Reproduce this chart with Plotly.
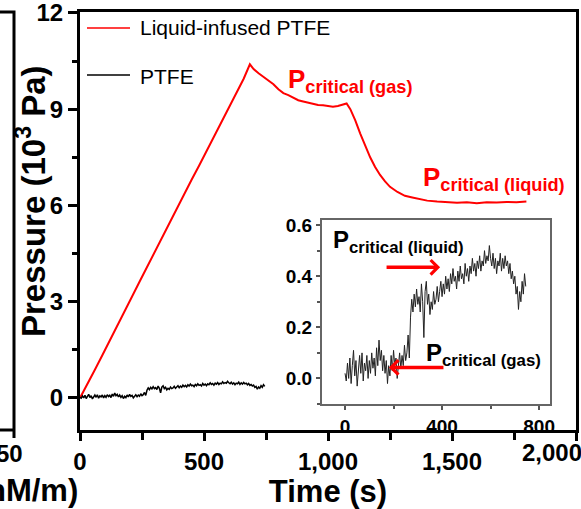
import plotly.graph_objects as go

# ---------------- data ----------------
# Liquid-infused PTFE (red), time in s, pressure in 10^3 Pa
li_time = [0, 30, 60, 90, 120, 150, 180, 210, 240, 270, 300, 330, 360, 390, 420, 450,
           480, 510, 540, 570, 600, 630, 660, 685, 700, 720, 740, 760, 780, 800, 820,
           840, 860, 880, 900, 920, 940, 960, 980, 1000, 1020, 1040, 1060, 1075, 1090,
           1110, 1130, 1150, 1170, 1190, 1210, 1230, 1250, 1280, 1310, 1340, 1370, 1400,
           1440, 1480, 1520, 1560, 1600, 1640, 1680, 1720, 1760, 1800]
li_pressure = [0.00, 0.42, 0.88, 1.33, 1.80, 2.24, 2.72, 3.16, 3.62, 4.08, 4.50, 4.98, 5.44,
               5.90, 6.33, 6.80, 7.24, 7.70, 8.14, 8.60, 9.04, 9.50, 9.95, 10.40, 10.25,
               10.12, 10.00, 9.88, 9.78, 9.62, 9.50, 9.44, 9.35, 9.28, 9.24, 9.20, 9.17,
               9.13, 9.12, 9.10, 9.08, 9.10, 9.15, 9.18, 9.00, 8.65, 8.24, 7.85, 7.50, 7.20,
               6.95, 6.75, 6.58, 6.42, 6.30, 6.25, 6.20, 6.15, 6.12, 6.10, 6.08, 6.10, 6.07,
               6.10, 6.09, 6.11, 6.10, 6.12]

# PTFE (black), sampled every 5 s
ptfe_time = list(range(0, 750, 5))
ptfe_pressure = [
    0.02, -0.01, 0.06, 0.00, 0.08, -0.02, 0.05, 0.11, 0.01, 0.07,
    -0.03, 0.04, 0.09, 0.02, 0.10, -0.01, 0.06, 0.03, 0.09, 0.00,
    0.07, 0.02, 0.10, 0.04, 0.08, 0.01, 0.12, 0.05, 0.15, 0.07,
    0.11, 0.03, 0.09, 0.02, 0.07, -0.02, 0.05, 0.01, 0.09, 0.03,
    0.11, 0.05, 0.08, 0.00, 0.06, 0.10, 0.04, 0.09, 0.05, 0.13,
    0.07, 0.10,
    0.17, 0.08, 0.24, 0.31, 0.26, 0.33, 0.28, 0.35, 0.29, 0.32,
    0.26, 0.37, 0.30, 0.16, 0.34, 0.38, 0.29, 0.33, 0.25, 0.30,
    0.27, 0.34, 0.29, 0.31, 0.36, 0.30, 0.34, 0.38, 0.32, 0.37,
    0.33, 0.40, 0.35, 0.39, 0.34, 0.41, 0.37, 0.43, 0.38, 0.40,
    0.35, 0.42, 0.38, 0.44, 0.39, 0.41, 0.37, 0.45, 0.40, 0.43,
    0.38, 0.44, 0.41, 0.47, 0.42, 0.45, 0.40, 0.46, 0.43, 0.48,
    0.42, 0.46, 0.44, 0.50, 0.45, 0.48, 0.46, 0.52, 0.47, 0.44,
    0.49, 0.43, 0.47, 0.41, 0.46, 0.44, 0.49, 0.42, 0.47, 0.43,
    0.48, 0.44, 0.46, 0.41, 0.45, 0.39, 0.42, 0.37, 0.40, 0.33,
    0.36, 0.27, 0.34, 0.30, 0.38, 0.33, 0.41, 0.36,
]
assert len(ptfe_time) == len(ptfe_pressure)

legend_names = ["Liquid-infused PTFE", "PTFE"]
main_xticks = [0, 500, 1000, 1500, 2000]
main_xlabels = ["0", "500", "1,000", "1,500", ""]   # last label drawn separately (edge)
last_xlabel = "2,000"
main_yticks = [0, 3, 6, 9, 12]
inset_xticks = [0, 400, 800]
inset_yticks = [0.0, 0.2, 0.4, 0.6]

# ---------------- figure ----------------
W, H = 581, 509
ML, MR, MT, MB = 80, 5, 12, 79
PW, PH = W - ML - MR, H - MT - MB


def px(xp):
    return (xp - ML) / PW


def py(yp):
    return (H - MB - yp) / PH


FONT = "Liberation Sans, Arial, sans-serif"
RED = "#ff0000"

fig = go.Figure()
fig.add_trace(go.Scatter(x=li_time, y=li_pressure, mode="lines", name=legend_names[0],
                         line=dict(color=RED, width=2), showlegend=False,
                         xaxis="x", yaxis="y"))
fig.add_trace(go.Scatter(x=ptfe_time, y=ptfe_pressure, mode="lines", name=legend_names[1],
                         line=dict(color="black", width=1.5), showlegend=False,
                         xaxis="x", yaxis="y"))
fig.add_trace(go.Scatter(x=ptfe_time, y=ptfe_pressure, mode="lines", name=legend_names[1] + " (inset)",
                         line=dict(color="#222222", width=1), showlegend=False,
                         xaxis="x2", yaxis="y2"))

bold24 = dict(family=FONT, size=24, color="black", weight="bold")
bold19 = dict(family=FONT, size=19, color="black", weight="bold")

fig.update_layout(
    width=W, height=H,
    margin=dict(l=ML, r=MR, t=MT, b=MB, autoexpand=False),
    paper_bgcolor="white", plot_bgcolor="white",
    font=dict(family=FONT, color="black"),
    xaxis=dict(
        range=[0, 2000], tickvals=main_xticks, ticktext=main_xlabels, automargin=False,
        ticks="outside", ticklen=8, tickwidth=2.5, tickcolor="black",
        minor=dict(dtick=250, ticks="outside", ticklen=7, tickwidth=2.5, tickcolor="black"),
        showline=True, linewidth=3, linecolor="black", mirror=True,
        showgrid=False, zeroline=False, tickfont=bold24,
        title=dict(text="Time (s)", font=dict(family=FONT, size=31, color="black", weight="bold"),
                   standoff=8),
    ),
    yaxis=dict(
        range=[-1, 12.03], tickvals=main_yticks, automargin=False,
        ticklabeloverflow="allow",
        ticks="outside", ticklen=9, tickwidth=2.5, tickcolor="black",
        minor=dict(dtick=1.5, ticks="outside", ticklen=5, tickwidth=2.5, tickcolor="black"),
        showline=True, linewidth=3, linecolor="black", mirror=True,
        showgrid=False, zeroline=False, tickfont=bold24,
    ),
    xaxis2=dict(
        domain=[px(322), px(550)], anchor="y2", automargin=False,
        range=[-95, 845], tickvals=inset_xticks,
        ticks="outside", ticklen=4, tickwidth=1.5, tickcolor="#555555",
        minor=dict(dtick=200, ticks="outside", ticklen=3, tickwidth=1.5, tickcolor="#555555"),
        showline=True, linewidth=2, linecolor="#666666", mirror=True,
        showgrid=False, zeroline=False, tickfont=bold19,
    ),
    yaxis2=dict(
        domain=[py(404), py(220)], anchor="x2", automargin=False,
        range=[-0.1, 0.62], tickvals=inset_yticks, tickformat=".1f",
        ticks="outside", ticklen=4, tickwidth=1.5, tickcolor="#555555",
        minor=dict(dtick=0.1, ticks="outside", ticklen=3, tickwidth=1.5, tickcolor="#555555"),
        showline=True, linewidth=2, linecolor="#666666", mirror=True,
        showgrid=False, zeroline=False, tickfont=bold19,
    ),
)

shapes = []
# custom legend samples
shapes.append(dict(type="line", xref="paper", yref="paper", x0=px(87), x1=px(130),
                   y0=py(28), y1=py(28), line=dict(color=RED, width=1.5)))
shapes.append(dict(type="line", xref="paper", yref="paper", x0=px(87), x1=px(130),
                   y0=py(75), y1=py(75), line=dict(color="black", width=1.5)))
# fragment of neighbouring panel at left
shapes.append(dict(type="path", xref="paper", yref="paper",
                   path=f"M{px(-5)},{py(12)} L{px(14)},{py(12)} L{px(14)},{py(438)}",
                   line=dict(color="black", width=3)))
shapes.append(dict(type="line", xref="paper", yref="paper", x0=px(-5), x1=px(14),
                   y0=py(430), y1=py(430), line=dict(color="black", width=3)))
fig.update_layout(shapes=shapes)

ann = []
# y axis title
ann.append(dict(xref="paper", yref="paper", x=px(31), y=py(201), xanchor="center", yanchor="middle",
                textangle=-90, text="Pressure (10<sup>3</sup> Pa)", showarrow=False,
                font=dict(family=FONT, size=33, color="black", weight="bold")))
# legend text
ann.append(dict(xref="paper", yref="paper", x=px(138), y=py(28), xanchor="left", yanchor="middle",
                text=legend_names[0], showarrow=False, font=dict(family=FONT, size=21, color="black")))
ann.append(dict(xref="paper", yref="paper", x=px(138), y=py(76), xanchor="left", yanchor="middle",
                text=legend_names[1], showarrow=False, font=dict(family=FONT, size=21, color="black")))
# last x tick label, pushed against the right edge
ann.append(dict(xref="x", yref="paper", x=2000, y=py(452), xanchor="right", yanchor="middle",
                xshift=8, text=last_xlabel, showarrow=False, font=bold24))
# main labels
ann.append(dict(xref="x", yref="y", x=830, y=9.88, xanchor="left", yanchor="middle",
                text="P<sub>critical (gas)</sub>", showarrow=False,
                font=dict(family=FONT, size=26, color=RED, weight="bold")))
ann.append(dict(xref="x", yref="y", x=1375, y=6.84, xanchor="left", yanchor="middle",
                text="P<sub>critical (liquid)</sub>", showarrow=False,
                font=dict(family=FONT, size=26, color=RED, weight="bold")))
# inset labels
ann.append(dict(xref="x2", yref="y2", x=-58, y=0.537, xanchor="left", yanchor="middle",
                text="P<sub>critical (liquid)</sub>", showarrow=False,
                font=dict(family=FONT, size=24, color="black", weight="bold")))
ann.append(dict(xref="x2", yref="y2", x=326, y=0.094, xanchor="left", yanchor="middle",
                text="P<sub>critical (gas)</sub>", showarrow=False,
                font=dict(family=FONT, size=24, color="black", weight="bold")))
# inset arrows
ann.append(dict(xref="x2", yref="y2", axref="x2", ayref="y2", x=392, y=0.435, ax=165, ay=0.435,
                text="", showarrow=True, arrowhead=4, arrowsize=0.8, arrowwidth=3.5,
                arrowcolor=RED, standoff=0))
ann.append(dict(xref="x2", yref="y2", axref="x2", ayref="y2", x=181, y=0.043, ax=412, ay=0.043,
                text="", showarrow=True, arrowhead=4, arrowsize=0.8, arrowwidth=3.5,
                arrowcolor=RED, standoff=0))
# neighbouring panel fragments
ann.append(dict(xref="paper", yref="paper", x=px(25), y=py(453), xanchor="right", yanchor="middle",
                text="50", showarrow=False, font=bold24))
ann.append(dict(xref="paper", yref="paper", x=px(80), y=py(490), xanchor="right", yanchor="middle",
                text="nM/m)", showarrow=False,
                font=dict(family=FONT, size=31, color="black", weight="bold")))
fig.update_layout(annotations=ann)

fig.write_html("out.html", config={"displayModeBar": False},
               post_script="document.body.style.margin='0';document.body.style.padding='0';")
